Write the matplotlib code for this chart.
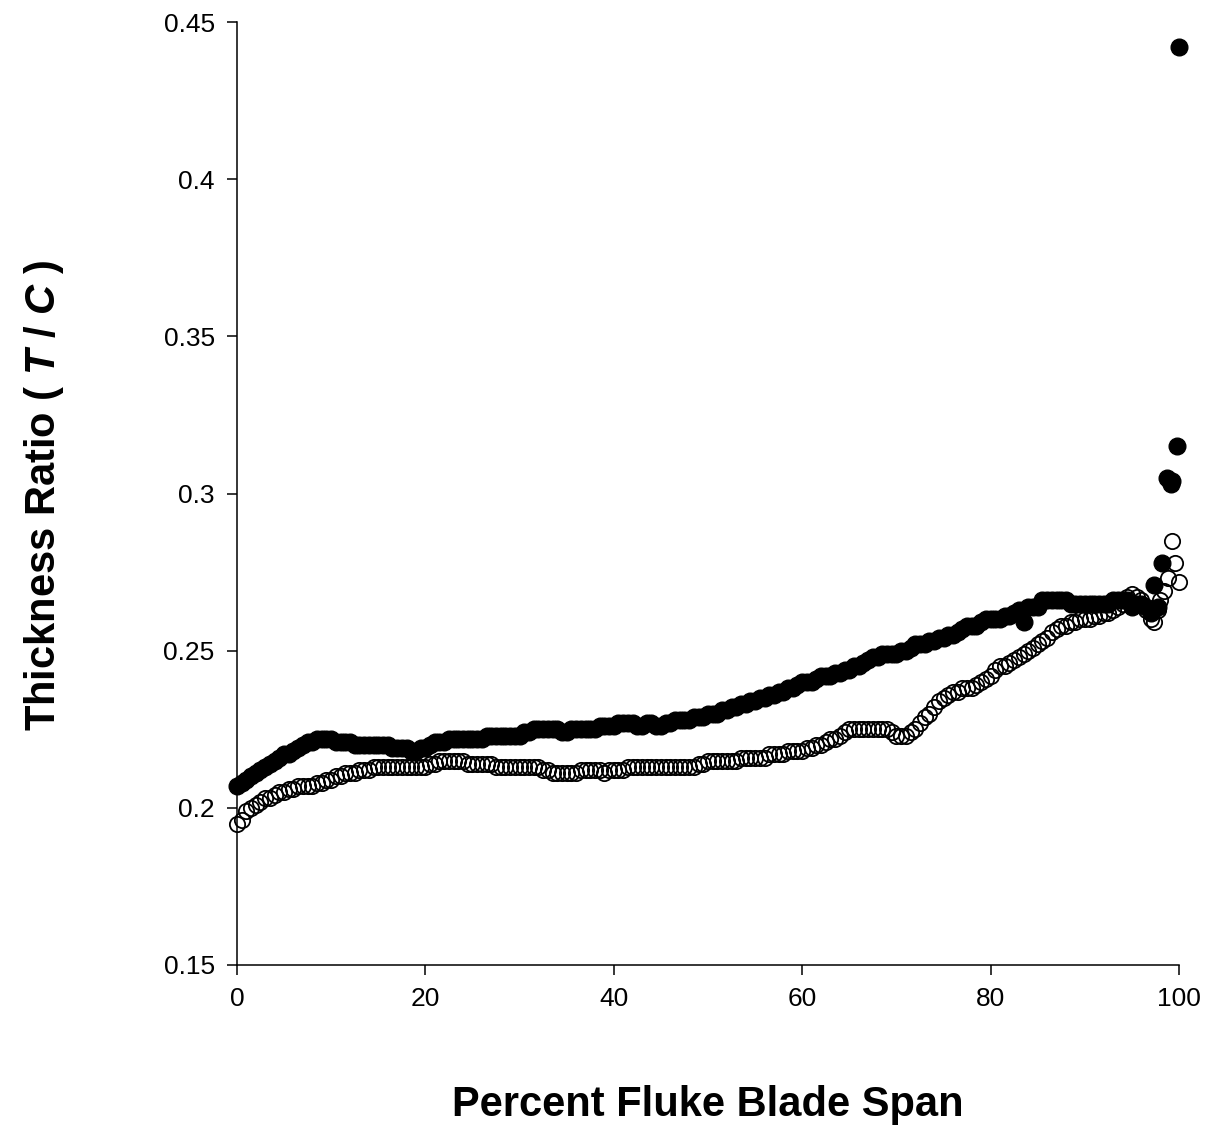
import numpy as np
import matplotlib.pyplot as plt
from matplotlib.ticker import FuncFormatter

plt.rcParams['font.family'] = ['Liberation Sans', 'DejaVu Sans']
plt.rcParams['mathtext.fontset'] = 'custom'
plt.rcParams['mathtext.it'] = 'Liberation Sans:italic:bold'
plt.rcParams['mathtext.rm'] = 'Liberation Sans:bold'

# posiciones de envergadura cada 0.5 % (0 a 97)
x_base = np.arange(0, 97.5, 0.5)

# serie superior (circulos rellenos)
y_lleno_base = [
    0.207, 0.208, 0.209, 0.210, 0.211, 0.212, 0.213, 0.214, 0.215, 0.216,
    0.217, 0.217, 0.218, 0.219, 0.220, 0.221, 0.221, 0.222, 0.222, 0.222,
    0.222, 0.221, 0.221, 0.221, 0.221, 0.220, 0.220, 0.220, 0.220, 0.220,
    0.220, 0.220, 0.220, 0.219, 0.219, 0.219, 0.219, 0.218, 0.218, 0.219,
    0.219, 0.220, 0.221, 0.221, 0.221, 0.222, 0.222, 0.222, 0.222, 0.222,
    0.222, 0.222, 0.222, 0.223, 0.223, 0.223, 0.223, 0.223, 0.223, 0.223,
    0.223, 0.224, 0.224, 0.225, 0.225, 0.225, 0.225, 0.225, 0.225, 0.224,
    0.224, 0.225, 0.225, 0.225, 0.225, 0.225, 0.225, 0.226, 0.226, 0.226,
    0.226, 0.227, 0.227, 0.227, 0.227, 0.226, 0.226, 0.227, 0.227, 0.226,
    0.226, 0.227, 0.227, 0.228, 0.228, 0.228, 0.228, 0.229, 0.229, 0.229,
    0.230, 0.230, 0.230, 0.231, 0.231, 0.232, 0.232, 0.233, 0.233, 0.234,
    0.234, 0.235, 0.235, 0.236, 0.236, 0.237, 0.237, 0.238, 0.238, 0.239,
    0.240, 0.240, 0.240, 0.241, 0.242, 0.242, 0.242, 0.243, 0.243, 0.244,
    0.244, 0.245, 0.245, 0.246, 0.247, 0.248, 0.248, 0.249, 0.249, 0.249,
    0.249, 0.250, 0.250, 0.251, 0.252, 0.252, 0.252, 0.253, 0.253, 0.254,
    0.254, 0.255, 0.255, 0.256, 0.257, 0.258, 0.258, 0.258, 0.259, 0.260,
    0.260, 0.260, 0.260, 0.261, 0.261, 0.262, 0.263, 0.259, 0.264, 0.264,
    0.264, 0.266, 0.266, 0.266, 0.266, 0.266, 0.266, 0.265, 0.265, 0.265,
    0.265, 0.265, 0.265, 0.265, 0.265, 0.265, 0.266, 0.266, 0.266, 0.266,
    0.264, 0.265, 0.265, 0.264, 0.262,
]
x_lleno_punta = [97.3, 97.8, 98.2, 98.7, 99.2, 99.3, 99.8, 100]
y_lleno_punta = [0.271, 0.264, 0.278, 0.305, 0.303, 0.304, 0.315, 0.442]

# serie inferior (circulos abiertos)
y_abierto_base = [
    0.195, 0.196, 0.199, 0.200, 0.201, 0.202, 0.203, 0.203, 0.204, 0.205,
    0.205, 0.206, 0.206, 0.207, 0.207, 0.207, 0.207, 0.208, 0.208, 0.209,
    0.209, 0.210, 0.210, 0.211, 0.211, 0.211, 0.212, 0.212, 0.212, 0.213,
    0.213, 0.213, 0.213, 0.213, 0.213, 0.213, 0.213, 0.213, 0.213, 0.213,
    0.213, 0.214, 0.214, 0.215, 0.215, 0.215, 0.215, 0.215, 0.215, 0.214,
    0.214, 0.214, 0.214, 0.214, 0.214, 0.213, 0.213, 0.213, 0.213, 0.213,
    0.213, 0.213, 0.213, 0.213, 0.213, 0.212, 0.212, 0.211, 0.211, 0.211,
    0.211, 0.211, 0.211, 0.212, 0.212, 0.212, 0.212, 0.212, 0.211, 0.212,
    0.212, 0.212, 0.212, 0.213, 0.213, 0.213, 0.213, 0.213, 0.213, 0.213,
    0.213, 0.213, 0.213, 0.213, 0.213, 0.213, 0.213, 0.213, 0.214, 0.214,
    0.215, 0.215, 0.215, 0.215, 0.215, 0.215, 0.215, 0.216, 0.216, 0.216,
    0.216, 0.216, 0.216, 0.217, 0.217, 0.217, 0.217, 0.218, 0.218, 0.218,
    0.218, 0.219, 0.219, 0.220, 0.220, 0.221, 0.222, 0.222, 0.223, 0.224,
    0.225, 0.225, 0.225, 0.225, 0.225, 0.225, 0.225, 0.225, 0.225, 0.224,
    0.223, 0.223, 0.223, 0.224, 0.225, 0.227, 0.229, 0.230, 0.232, 0.234,
    0.235, 0.236, 0.237, 0.237, 0.238, 0.238, 0.238, 0.239, 0.240, 0.241,
    0.242, 0.244, 0.245, 0.245, 0.246, 0.247, 0.248, 0.249, 0.250, 0.251,
    0.252, 0.253, 0.254, 0.256, 0.257, 0.258, 0.258, 0.259, 0.259, 0.260,
    0.260, 0.260, 0.261, 0.261, 0.262, 0.262, 0.263, 0.264, 0.265, 0.267,
    0.268, 0.267, 0.266, 0.263, 0.260,
]
x_abierto_punta = [97.3, 97.8, 98.0, 98.4, 98.8, 99.3, 99.6, 100]
y_abierto_punta = [0.259, 0.263, 0.266, 0.269, 0.273, 0.285, 0.278, 0.272]

x_lleno = np.concatenate([x_base, x_lleno_punta])
y_lleno = np.concatenate([y_lleno_base, y_lleno_punta])
x_abierto = np.concatenate([x_base, x_abierto_punta])
y_abierto = np.concatenate([y_abierto_base, y_abierto_punta])

fig = plt.figure(figsize=(12.12, 11.31), dpi=100)
ax = fig.add_axes([0.1955, 0.1468, 0.7773, 0.8337])

ax.plot(x_abierto, y_abierto, 'o', markersize=11, markerfacecolor='none',
        markeredgecolor='black', markeredgewidth=1.3, clip_on=False)
ax.plot(x_lleno, y_lleno, 'o', markersize=12, color='black', clip_on=False)

ax.set_xlim(0, 100)
ax.set_ylim(0.15, 0.45)
ax.set_xticks([0, 20, 40, 60, 80, 100])
ax.set_yticks([0.15, 0.2, 0.25, 0.3, 0.35, 0.4, 0.45])
ax.yaxis.set_major_formatter(FuncFormatter(lambda v, p: '%g' % round(v, 2)))

ax.spines['top'].set_visible(False)
ax.spines['right'].set_visible(False)
ax.spines['left'].set_linewidth(1.1)
ax.spines['bottom'].set_linewidth(1.1)
ax.tick_params(direction='out', length=7, width=1.1, labelsize=19, pad=9)

ax.set_xlabel('Percent Fluke Blade Span', fontsize=30, fontweight='bold')
ax.set_ylabel('Thickness Ratio ( $T$ / $C$ )', fontsize=30, fontweight='bold')
ax.xaxis.set_label_coords(0.5, -0.127)
ax.yaxis.set_label_coords(-0.181, 0.498)

fig.savefig('out.png', dpi=100)
